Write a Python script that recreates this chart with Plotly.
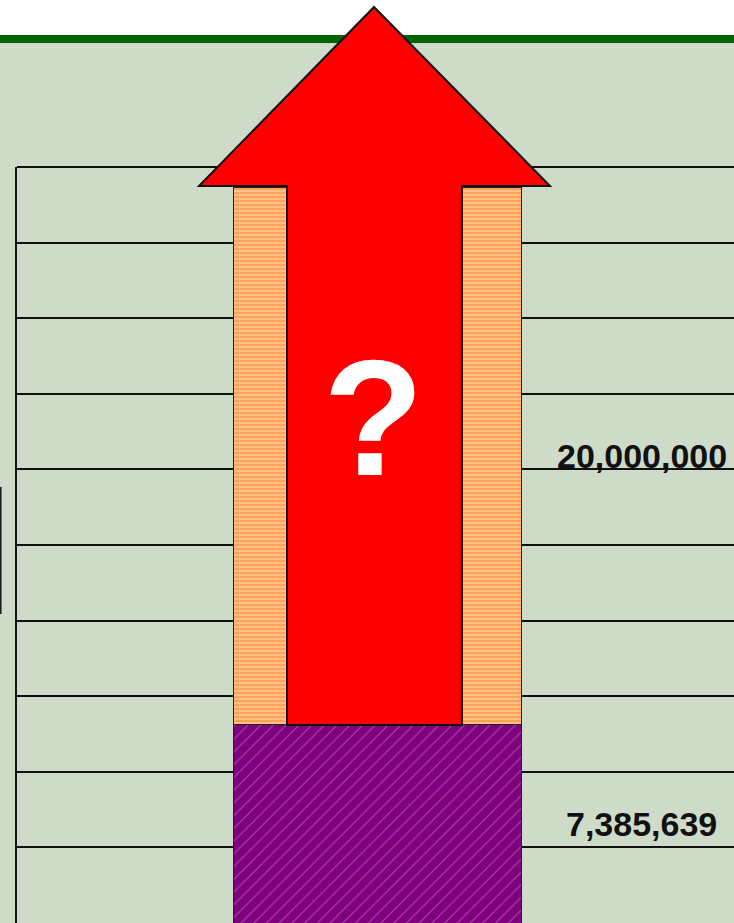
import plotly.graph_objects as go

# stacked values (bottom to top)
categories = ["Total"]
base_values = [7385639]
added_values = [20000000]
label_font = "Liberation Sans, Arial, sans-serif"

BG = "#CFDBC9"
W, H = 734, 923
L, T = 17, 167  # plot area offsets in px
PW, PH = W - L, H - T


def px(x, y):
    """pixel position -> paper coordinates"""
    return (x - L) / PW, (H - y) / PH


fig = go.Figure()
fig.add_trace(
    go.Bar(
        x=[0],
        y=base_values,
        width=1,
        marker=dict(
            color="#800080",
            line=dict(color="#222", width=1),
            pattern=dict(shape="/", fgcolor="#D996D9", bgcolor="#7E007E", size=9, solidity=0.12),
        ),
        hoverinfo="skip",
        name=categories[0],
    )
)
fig.add_trace(
    go.Bar(
        x=[0],
        y=added_values,
        width=1,
        marker=dict(
            color="#FF8C3A",
            line=dict(color="#222", width=1),
            pattern=dict(shape="-", fgcolor="#FF7A1A", bgcolor="#FFC894", size=4, solidity=0.6),
        ),
        hoverinfo="skip",
        name=categories[0],
    )
)

# value labels next to each segment
fig.add_annotation(
    x=0.915, y=base_values[0] / 2, text=f"<b>{base_values[0]:,}</b>", showarrow=False,
    font=dict(family=label_font, size=34, color="#111"), xanchor="center", yanchor="middle",
)
fig.add_annotation(
    x=0.915, y=base_values[0] + added_values[0] / 2, text=f"<b>{added_values[0]:,}</b>", showarrow=False,
    font=dict(family=label_font, size=34, color="#111"), xanchor="center", yanchor="middle",
)

total = base_values[0] + added_values[0]
per_px = total / 736
dtick = per_px * 75.6

shapes = []
# white band + green rule at top
x0, _ = px(0, 0)
x1, _ = px(W, 0)
shapes.append(dict(type="rect", xref="paper", yref="paper", x0=x0, x1=x1,
                   y0=px(0, 35)[1], y1=px(0, 0)[1] + 0.01, fillcolor="white", line_width=0, layer="below"))
shapes.append(dict(type="rect", xref="paper", yref="paper", x0=x0, x1=x1,
                   y0=px(0, 43)[1], y1=px(0, 35)[1], fillcolor="#006400", line_width=0, layer="below"))
# top border of plot
shapes.append(dict(type="line", xref="paper", yref="paper", x0=0, x1=1, y0=1, y1=1,
                   line=dict(color="#111", width=2), layer="below"))
# clipped box edge at far left
shapes.append(dict(type="line", xref="paper", yref="paper", x0=px(0.8, 0)[0], x1=px(0.8, 0)[0],
                   y0=px(0, 487)[1], y1=px(0, 614)[1], line=dict(color="#111", width=1.5)))

# big red arrow
pts = [(287, 725), (462, 725), (462, 186), (550, 186), (374, 7), (199, 186), (287, 186)]
path = "M " + " L ".join(f"{px(a, b)[0]:.4f},{px(a, b)[1]:.4f}" for a, b in pts) + " Z"
shapes.append(dict(type="path", xref="paper", yref="paper", path=path,
                   fillcolor="#FF0000", line=dict(color="#111", width=2), layer="above"))

fig.add_annotation(
    xref="paper", yref="paper", x=px(373, 0)[0], y=px(0, 418)[1], text="<b>?</b>", showarrow=False,
    font=dict(family="Liberation Sans, Arial, sans-serif", size=165, color="white"),
    xanchor="center", yanchor="middle",
)

fig.update_layout(
    width=W, height=H,
    margin=dict(l=L, r=0, t=T, b=0),
    paper_bgcolor=BG, plot_bgcolor=BG,
    barmode="stack", showlegend=False,
    shapes=shapes,
    xaxis=dict(range=[-1.2474, 1.2336], showticklabels=False, showgrid=False, zeroline=False),
    yaxis=dict(range=[0, dtick * 10], dtick=dtick, showticklabels=False, showgrid=True,
               gridcolor="#111", gridwidth=2, zeroline=False,
               showline=True, linecolor="#111", linewidth=2),
)
# drop the page's default body margin so the chart sits flush in the window
fig.write_html("out.html", config={"displayModeBar": False},
               post_script="document.body.style.margin='0';")
